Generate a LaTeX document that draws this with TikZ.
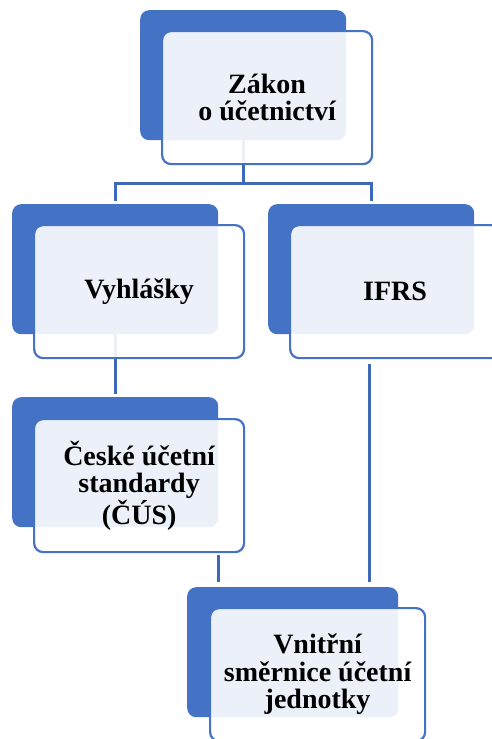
\documentclass[tikz,border=0pt]{standalone}
\usepackage{fontspec}
\setmainfont{Liberation Serif}
\usetikzlibrary{calc}
\definecolor{accent}{HTML}{4472C4}
\definecolor{linkblue}{HTML}{3F68B6}
\tikzset{
  backcard/.style={anchor=north west, fill=accent, draw=none, rounded corners=9pt,
    minimum width=206pt, minimum height=130pt, inner sep=0pt},
  frontcard/.style={anchor=north west, fill=white, fill opacity=0.9, text opacity=1,
    draw=accent, line width=2.2pt, rounded corners=9pt,
    minimum width=210pt, minimum height=133pt, inner sep=0pt, align=center,
    font=\fontsize{28}{27.5}\selectfont\bfseries},
  link/.style={draw=linkblue, line width=2.6pt}
}
\begin{document}
\begin{tikzpicture}
\useasboundingbox (0pt,0pt) rectangle (492pt,-739pt);

% blue back cards
\node[backcard] (zd) at (140pt,-10pt) {};
\node[backcard] (vd) at (12pt,-204pt) {};
\node[backcard] (id) at (268pt,-204pt) {};
\node[backcard] (cd) at (12pt,-397pt) {};
\node[backcard, minimum width=211pt] (nd) at (187pt,-587pt) {};

% connectors, drawn under the front cards
\coordinate (bus) at ($(zd.south)+(0pt,-43pt)$);
\draw[link] (zd.south) -- (bus);
\draw[link] ([yshift=3pt]vd.north) |- (bus) -| ([yshift=3pt]id.north);
\draw[link] (vd.south) -- ([yshift=3pt]cd.north);
\draw[link] ($(cd.south east)+(0pt,-28pt)$) -- ($(cd.east |- nd.north)+(0pt,5pt)$);
\draw[link] ($(id.south)+(-2pt,-30pt)$) -- ($(id.south |- nd.north)+(-2pt,5pt)$);

% front cards with the labels
\node[frontcard] (zf) at (161pt,-30pt) {Zákon\\o účetnictví};
\node[frontcard] (vf) at (33pt,-224pt) {Vyhlášky};
\node[frontcard] (if) at (289pt,-224pt) {IFRS};
\node[frontcard] (cf) at (33pt,-418pt) {České účetní\\standardy\\(ČÚS)};
\node[frontcard, minimum width=215pt] (nf) at (209pt,-607pt) {Vnitřní\\směrnice účetní\\jednotky};
\end{tikzpicture}
\end{document}
